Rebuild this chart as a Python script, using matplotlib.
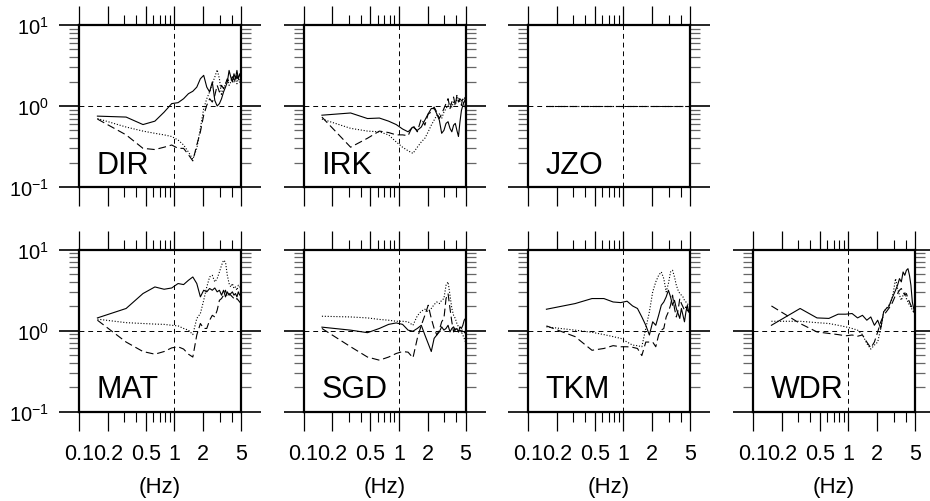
import matplotlib
matplotlib.use('Agg')
import matplotlib.pyplot as plt
from matplotlib.ticker import FixedLocator, LogLocator, NullFormatter

plt.rcParams['font.family'] = ['Liberation Sans', 'DejaVu Sans']
plt.rcParams['mathtext.default'] = 'regular'

# frequencies (Hz), linear spacing
freq = [0.156, 0.312, 0.469, 0.625, 0.781, 0.938, 1.094, 1.25, 1.406, 1.562,
        1.719, 1.875, 2.031, 2.188, 2.344, 2.5, 2.656, 2.812, 2.969, 3.125,
        3.281, 3.438, 3.594, 3.75, 3.906, 4.062, 4.219, 4.375, 4.531, 4.688,
        4.844, 5.0]

# solid / dotted / dashed curves for each station
dir_solid = [0.75, 0.73, 0.59, 0.65, 0.84, 1.07, 1.10, 1.23, 1.42, 1.52, 1.71, 2.17, 2.39, 1.71, 1.49, 1.98,
             1.17, 1.00, 1.07, 1.23, 1.49, 1.71, 1.98, 2.75, 2.28, 1.98, 2.50, 2.17, 2.75, 2.17, 2.50, 2.17]
dir_dotted = [0.70, 0.55, 0.49, 0.46, 0.44, 0.42, 0.38, 0.33, 0.27, 0.22, 0.30, 0.53, 0.93, 1.23, 1.49, 1.88,
              2.28, 2.80, 2.17, 1.35, 1.64, 1.88, 2.17, 1.80, 1.98, 2.28, 1.98, 2.17, 1.88, 2.17, 1.98, 1.88]
dir_dashed = [0.69, 0.44, 0.30, 0.29, 0.31, 0.33, 0.30, 0.30, 0.25, 0.21, 0.33, 0.48, 0.77, 1.02, 1.23, 1.12,
              1.35, 1.80, 1.49, 1.80, 1.64, 1.88, 2.17, 1.98, 2.07, 2.28, 2.17, 1.98, 2.39, 2.07, 2.17, 1.98]

irk_solid = [0.77, 0.82, 0.70, 0.71, 0.65, 0.59, 0.52, 0.48, 0.55, 0.50, 0.55, 0.67, 0.80, 0.93, 0.94, 0.80,
             0.67, 0.46, 0.50, 0.61, 0.64, 0.53, 0.48, 0.58, 0.61, 0.50, 0.42, 0.64, 0.88, 1.02, 1.12, 1.23]
irk_dotted = [0.69, 0.53, 0.49, 0.48, 0.44, 0.36, 0.31, 0.28, 0.26, 0.31, 0.36, 0.40, 0.48, 0.58, 0.67, 0.77,
              0.80, 0.70, 0.84, 0.93, 1.02, 1.07, 0.97, 1.12, 1.02, 1.23, 1.29, 1.12, 1.17, 1.23, 1.02, 0.93]
irk_dashed = [0.73, 0.31, 0.40, 0.49, 0.47, 0.44, 0.44, 0.43, 0.58, 0.48, 0.70, 0.58, 0.80, 0.84, 0.97, 0.84,
              0.70, 0.80, 0.93, 1.07, 1.23, 0.93, 1.12, 1.29, 1.02, 1.35, 1.12, 1.23, 1.02, 1.29, 1.23, 1.29]

jzo_dotted = [1.0, 1.0, 1.0, 1.0, 1.0, 1.0, 1.0, 1.0, 1.0, 1.0, 1.0, 1.0, 1.0, 1.0, 1.0, 1.0,
              1.0, 1.0, 1.0, 1.0, 1.0, 1.0, 1.0, 1.0, 1.0, 1.0, 1.0, 1.0, 1.0, 1.0, 1.0, 1.0]
jzo_dashed = [1.0, 1.0, 1.0, 1.0, 1.0, 1.0, 1.0, 1.0, 1.0, 1.0, 1.0, 1.0, 1.0, 1.0, 1.0, 1.0,
              1.0, 1.0, 1.0, 1.0, 1.0, 1.0, 1.0, 1.0, 1.0, 1.0, 1.0, 1.0, 1.0, 1.0, 1.0, 1.0]

mat_solid = [1.43, 1.87, 2.86, 3.45, 3.23, 3.35, 3.80, 3.69, 4.17, 4.58, 3.80, 2.60, 3.14, 3.00, 3.30, 3.14,
             3.35, 3.00, 3.14, 2.73, 3.14, 2.60, 3.00, 2.73, 2.86, 3.00, 2.73, 2.86, 2.60, 3.00, 2.73, 2.86]
mat_dotted = [1.38, 1.25, 1.22, 1.20, 1.19, 1.16, 1.14, 1.06, 1.01, 0.89, 1.41, 1.62, 2.36, 3.45, 4.58, 4.80,
              3.98, 4.37, 5.28, 6.37, 7.37, 7.00, 4.80, 3.80, 3.45, 3.80, 3.30, 3.45, 3.14, 3.62, 3.45, 3.45]
mat_dashed = [1.34, 0.72, 0.55, 0.51, 0.55, 0.61, 0.63, 0.59, 0.51, 0.47, 0.88, 1.22, 1.06, 1.06, 1.34, 1.54,
              1.47, 1.78, 2.36, 2.48, 2.73, 3.14, 2.60, 2.86, 2.73, 2.60, 2.48, 2.36, 2.48, 2.36, 2.25, 2.15]

sgd_solid = [1.10, 1.01, 0.94, 1.06, 1.19, 1.24, 1.19, 1.01, 0.98, 1.06, 1.16, 0.88, 0.69, 0.55, 0.80, 0.88,
             0.96, 1.11, 1.01, 1.06, 1.16, 0.96, 1.06, 1.11, 1.01, 1.06, 0.96, 1.11, 1.06, 1.16, 1.34, 1.41]
sgd_dotted = [1.50, 1.47, 1.43, 1.37, 1.34, 1.30, 1.30, 1.28, 1.16, 1.52, 1.73, 1.83, 1.70, 1.87, 2.09, 2.25,
              2.15, 2.36, 2.48, 3.62, 3.98, 2.73, 1.87, 1.54, 1.41, 1.22, 1.11, 1.06, 0.96, 0.88, 0.80, 0.72]
sgd_dashed = [1.06, 0.63, 0.47, 0.43, 0.47, 0.52, 0.55, 0.54, 0.46, 0.80, 1.16, 1.54, 2.05, 1.41, 1.06, 0.88,
              1.01, 1.28, 1.41, 2.48, 2.86, 1.87, 1.28, 0.96, 1.06, 1.01, 0.96, 1.01, 0.96, 1.06, 0.96, 0.92]

tkm_solid = [1.83, 2.15, 2.48, 2.48, 2.25, 2.21, 2.30, 2.01, 1.87, 1.47, 1.16, 0.88, 1.28, 1.16, 1.54, 2.05,
             2.25, 2.60, 3.14, 2.60, 2.05, 2.36, 1.87, 1.62, 1.41, 1.87, 1.54, 1.28, 1.70, 2.05, 1.70, 1.87]
tkm_dotted = [1.11, 1.01, 0.95, 0.89, 0.84, 0.80, 0.72, 0.66, 0.65, 0.63, 1.06, 1.70, 3.00, 3.98, 4.80, 5.28,
              4.37, 3.00, 3.80, 5.28, 5.54, 4.58, 3.62, 3.14, 2.86, 2.73, 2.60, 2.36, 2.25, 2.15, 2.05, 1.96]
tkm_dashed = [1.14, 0.84, 0.57, 0.60, 0.65, 0.63, 0.63, 0.62, 0.60, 0.49, 0.72, 0.72, 0.72, 0.63, 0.88, 1.01,
              1.06, 1.47, 1.70, 2.05, 2.73, 1.87, 1.47, 1.78, 2.48, 2.15, 1.96, 1.78, 1.96, 1.78, 1.70, 1.62]

wdr_solid = [1.16, 1.87, 1.43, 1.41, 1.59, 1.59, 1.62, 1.43, 1.54, 1.34, 1.47, 1.16, 1.34, 1.06, 1.70, 1.87,
             1.96, 2.36, 2.73, 3.14, 3.62, 4.37, 3.98, 5.28, 4.80, 5.54, 5.80, 4.80, 3.62, 2.25, 1.87, 1.54]
wdr_dotted = [1.30, 1.30, 1.25, 1.22, 1.16, 1.11, 1.06, 1.01, 0.89, 0.69, 0.59, 0.66, 0.72, 1.06, 1.70, 1.87,
              2.05, 2.25, 3.00, 4.37, 3.30, 2.73, 2.36, 2.73, 3.00, 2.48, 2.25, 2.05, 1.96, 1.78, 1.70, 1.62]
wdr_dashed = [2.01, 1.22, 0.96, 0.92, 0.89, 0.86, 0.88, 0.85, 0.88, 0.72, 0.61, 0.72, 0.96, 1.28, 1.54, 1.70,
              1.87, 2.05, 2.36, 2.73, 2.86, 3.14, 3.30, 3.00, 2.73, 2.86, 2.48, 2.25, 2.05, 1.87, 1.70, 1.62]

stations = ['DIR', 'IRK', 'JZO', 'MAT', 'SGD', 'TKM', 'WDR']
grid_pos = [(0, 0), (0, 1), (0, 2), (1, 0), (1, 1), (1, 2), (1, 3)]
curves = {
    'DIR': (dir_solid, dir_dotted, dir_dashed),
    'IRK': (irk_solid, irk_dotted, irk_dashed),
    'JZO': (None, jzo_dotted, jzo_dashed),
    'MAT': (mat_solid, mat_dotted, mat_dashed),
    'SGD': (sgd_solid, sgd_dotted, sgd_dashed),
    'TKM': (tkm_solid, tkm_dotted, tkm_dashed),
    'WDR': (wdr_solid, wdr_dotted, wdr_dashed),
}

x_major = [0.1, 0.2, 0.5, 1, 2, 5]
x_major_labels = ['0.1', '0.2', '0.5', '1', '2', '5']
x_minor = [0.3, 0.4, 0.6, 0.7, 0.8, 0.9, 3, 4]
y_major = [0.1, 1, 10]
y_major_labels = ['$10^{-1}$', '$10^{0}$', '$10^{1}$']

W, H = 930, 502
fig = plt.figure(figsize=(W / 100, H / 100), dpi=100)

col_left = [79, 303.5, 528, 753]
row_top = [26, 250.5]
size = 162

styles = [dict(ls='-'), dict(ls=(0, (1, 1.6))), dict(ls=(0, (7, 3.5)))]

for name, (r, c) in zip(stations, grid_pos):
    ax = fig.add_axes([col_left[c] / W, (H - row_top[r] - size) / H, size / W, size / H])
    ax.set_xscale('log')
    ax.set_yscale('log')
    ax.set_xlim(0.1, 5)
    ax.set_ylim(0.1, 10)

    ax.axhline(1, color='k', lw=0.7, ls=(0, (5, 4)), zorder=1)
    ax.axvline(1, color='k', lw=0.7, ls=(0, (5, 4)), zorder=1)

    for data, st in zip(curves[name], styles):
        if data is None:
            continue
        ax.plot(freq, data, color='k', lw=0.8, zorder=2, **st)

    ax.text(0.11, 0.088, name, transform=ax.transAxes, fontsize=22, ha='left', va='baseline')

    for sp in ax.spines.values():
        sp.set_linewidth(1.6)

    ax.xaxis.set_major_locator(FixedLocator(x_major))
    ax.xaxis.set_minor_locator(FixedLocator(x_minor))
    ax.xaxis.set_minor_formatter(NullFormatter())
    ax.yaxis.set_major_locator(FixedLocator(y_major))
    ax.yaxis.set_minor_locator(LogLocator(base=10, subs=[2, 3, 4, 5, 6, 7, 8, 9]))
    ax.yaxis.set_minor_formatter(NullFormatter())

    ax.tick_params(axis='x', which='major', direction='out', length=13.5, width=0.9,
                   top=True, bottom=True, labelsize=15.5, pad=9)
    ax.tick_params(axis='x', which='minor', direction='out', length=7, width=0.8,
                   top=True, bottom=True)
    ax.tick_params(axis='y', which='major', direction='out', length=14.4, width=1.2,
                   left=True, right=True, labelsize=14.5, pad=7)
    ax.tick_params(axis='y', which='minor', direction='out', length=7, width=0.9,
                   left=True, right=True, color='0.4')

    if r == 1:
        ax.set_xticklabels(x_major_labels)
        ax.set_xlabel('(Hz)', fontsize=16, labelpad=9)
    else:
        ax.set_xticklabels([])
    if c == 0:
        ax.set_yticklabels(y_major_labels)
    else:
        ax.set_yticklabels([])

fig.savefig('out.png', dpi=100)
